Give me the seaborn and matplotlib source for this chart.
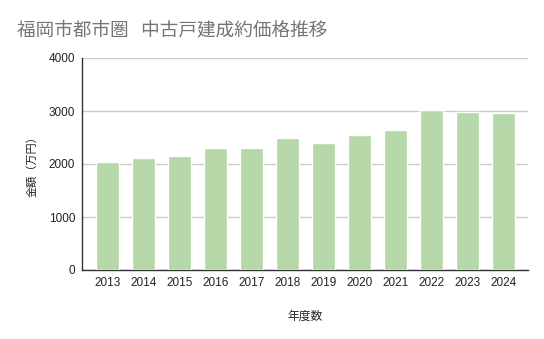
import matplotlib
matplotlib.use("Agg")
import matplotlib.pyplot as plt
import seaborn as sns
import pandas as pd

years = ["2013", "2014", "2015", "2016", "2017", "2018",
         "2019", "2020", "2021", "2022", "2023", "2024"]
prices = [2035, 2110, 2150, 2300, 2300, 2490,
          2395, 2545, 2640, 3015, 2980, 2960]
y_ticks = [0, 1000, 2000, 3000, 4000]

sns.set_theme(style="white")
plt.rcParams["font.family"] = ["Liberation Sans", "Noto Sans CJK JP", "DejaVu Sans"]

df = pd.DataFrame({"year": years, "price": prices})

fig = plt.figure(figsize=(5.44, 3.39), dpi=100)
ax = fig.add_axes([82 / 544, 1 - 270 / 339, (528 - 82) / 544, (270 - 58) / 339])

sns.barplot(data=df, x="year", y="price", color="#b6d7a8", saturation=1,
            width=0.64, ax=ax, zorder=3)

ax.set_ylim(0, 4000)
ax.set_yticks(y_ticks)
ax.yaxis.grid(True, color="#cccccc", linewidth=1, zorder=0)
ax.set_axisbelow(True)
ax.set_xlim(-0.71, 11.68)

for side in ["top", "right"]:
    ax.spines[side].set_visible(False)
ax.spines["left"].set_color("#333333")
ax.spines["bottom"].set_color("#333333")
ax.spines["left"].set_linewidth(1)
ax.spines["bottom"].set_linewidth(1)

ax.tick_params(axis="both", length=0, labelsize=8.5, colors="#222222", pad=5)

ax.set_xlabel("年度数", fontsize=8.5, color="#222222",
              family=["Noto Sans CJK JP"], labelpad=15)
ax.set_ylabel("金額（万円）", fontsize=8, color="#222222",
              family=["Noto Sans CJK JP"], labelpad=8)

fig.text(17 / 544, 1 - 30 / 339, "福岡市都市圏   中古戸建成約価格推移",
         fontsize=13.4, color="#757575", family=["Noto Sans CJK JP"],
         va="center", ha="left")

fig.savefig("out.png", dpi=100)
